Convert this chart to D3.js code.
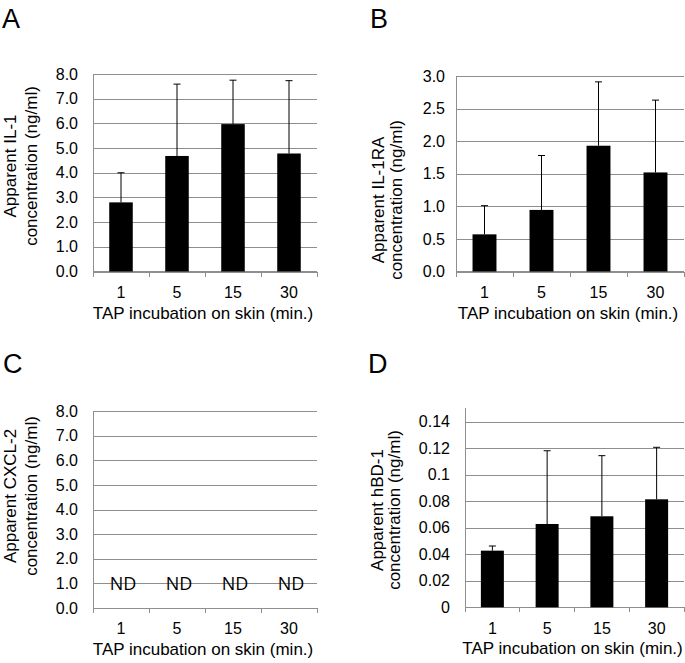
<!DOCTYPE html>
<html>
<head>
<meta charset="utf-8">
<script src="https://cdn.jsdelivr.net/npm/d3@7"></script>
<style>
  body { margin: 0; background: #fff; }
  svg text { font-family: "Liberation Sans", Arial, sans-serif; fill: #000; }
</style>
</head>
<body>
<div id="chart"></div>
<script>
// incubation times (x categories), same for all four panels
const times = ["1", "5", "15", "30"];

// A: IL-1 (ng/ml), mean and upper error (sd)
const il1Mean = [2.80, 4.68, 5.97, 4.78];
const il1Err = [1.20, 2.91, 1.78, 2.95];

// B: IL-1RA (ng/ml)
const il1raMean = [0.57, 0.945, 1.93, 1.52];
const il1raErr = [0.44, 0.835, 0.98, 1.11];

// C: CXCL-2, not detected
const cxcl2Labels = ["ND", "ND", "ND", "ND"];
const cxcl2LabelLevel = 1.0;

// D: hBD-1 (ng/ml)
const hbd1Mean = [0.0427, 0.0628, 0.0686, 0.0814];
const hbd1Err = [0.0035, 0.0552, 0.0457, 0.0392];

const ticks8 = [0, 1, 2, 3, 4, 5, 6, 7, 8];
const ticks3 = [0, 0.5, 1, 1.5, 2, 2.5, 3];
const ticksD = [0, 0.02, 0.04, 0.06, 0.08, 0.1, 0.12, 0.14];

const xTitle = "TAP incubation on skin (min.)";

const gridColor = "#8e8e8e";

const panels = [
  {letter: "A", lx: 2, ly: 28, left: 93, right: 317, top: 74, bottom: 271.5,
   max: 8, ticks: ticks8, fmt: d3.format(".1f"), labelGap: 15,
   title: ["Apparent IL-1", "concentration (ng/ml)"], tx: [16, 37], ty: 166,
   mean: il1Mean, err: il1Err},
  {letter: "B", lx: 370, ly: 28, left: 456, right: 684, top: 76, bottom: 271.5,
   max: 3, ticks: ticks3, fmt: d3.format(".1f"), labelGap: 11,
   title: ["Apparent IL-1RA", "concentration (ng/ml)"], tx: [384, 402], ty: 200,
   mean: il1raMean, err: il1raErr},
  {letter: "C", lx: 3, ly: 373, left: 93, right: 317, top: 411, bottom: 608,
   max: 8, ticks: ticks8, fmt: d3.format(".1f"), labelGap: 15,
   title: ["Apparent CXCL-2", "concentration (ng/ml)"], tx: [16, 37], ty: 496,
   nd: cxcl2Labels},
  {letter: "D", lx: 368, ly: 373, left: 465, right: 684, top: 408.3, bottom: 607.3,
   max: 0.15, ticks: ticksD, fmt: d3.format(".2~f"), labelGap: 15,
   title: ["Apparent hBD-1", "concentration (ng/ml)"], tx: [383, 400], ty: 510,
   mean: hbd1Mean, err: hbd1Err}
];

const svg = d3.select("#chart").append("svg")
  .attr("width", 685)
  .attr("height", 663);

panels.forEach(function(p) {
  const g = svg.append("g");

  // panel letter
  g.append("text")
    .attr("x", p.lx)
    .attr("y", p.ly)
    .style("font-size", "27px")
    .text(p.letter);

  const x = d3.scaleBand()
    .domain(times)
    .range([p.left, p.right])
    .paddingInner(0.58)
    .paddingOuter(0.29);

  const y = d3.scaleLinear()
    .domain([0, p.max])
    .range([p.bottom, p.top]);

  // gridlines + y labels
  const yAxis = g.append("g")
    .attr("transform", `translate(${p.left},0)`)
    .call(d3.axisLeft(y)
      .tickValues(p.ticks)
      .tickFormat(p.fmt)
      .tickSize(-(p.right - p.left))
      .tickPadding(p.labelGap));
  yAxis.select(".domain").remove();
  yAxis.selectAll(".tick line").attr("stroke", gridColor).attr("shape-rendering", "crispEdges");
  yAxis.selectAll(".tick text").style("font-size", "16px").style("font-family", "'Liberation Sans', Arial, sans-serif");

  // left axis line
  g.append("line")
    .attr("x1", p.left).attr("x2", p.left)
    .attr("y1", y(p.max)).attr("y2", y(0))
    .attr("stroke", gridColor)
    .attr("shape-rendering", "crispEdges");

  // x axis with ticks at category boundaries
  const xAxis = g.append("g")
    .attr("transform", `translate(0,${y(0)})`)
    .call(d3.axisBottom(x).tickSize(0).tickPadding(15));
  xAxis.select(".domain").remove();
  xAxis.selectAll(".tick text").style("font-size", "16px").style("font-family", "'Liberation Sans', Arial, sans-serif");

  g.append("line")
    .attr("x1", p.left).attr("x2", p.right)
    .attr("y1", y(0)).attr("y2", y(0))
    .attr("stroke", gridColor)
    .attr("shape-rendering", "crispEdges");

  const bounds = d3.range(times.length + 1).map(i => x.range()[0] + i * x.step());
  g.selectAll(".xtick")
    .data(bounds)
    .enter()
      .append("line")
        .attr("x1", d => d).attr("x2", d => d)
        .attr("y1", y(0)).attr("y2", y(0) + 5)
        .attr("stroke", gridColor)
        .attr("shape-rendering", "crispEdges");

  g.append("text")
    .attr("x", (p.left + p.right) / 2 - 2)
    .attr("y", y(0) + 47)
    .attr("text-anchor", "middle")
    .style("font-size", "17px")
    .text(xTitle);

  // y title, two rotated lines
  p.title.forEach(function(line, i) {
    g.append("text")
      .attr("transform", `translate(${p.tx[i]},${p.ty}) rotate(-90)`)
      .attr("text-anchor", "middle")
      .style("font-size", "17px")
      .text(line);
  });

  if (p.mean) {
    const rows = times.map((t, i) => ({t: t, v: p.mean[i], e: p.err[i]}));

    // error bars (upper only)
    g.selectAll(".err")
      .data(rows)
      .enter()
        .append("line")
          .attr("x1", d => x(d.t) + x.bandwidth() / 2)
          .attr("x2", d => x(d.t) + x.bandwidth() / 2)
          .attr("y1", d => y(d.v))
          .attr("y2", d => y(d.v + d.e))
          .attr("stroke", "#000")
          .attr("stroke-width", 1);
    g.selectAll(".cap")
      .data(rows)
      .enter()
        .append("line")
          .attr("x1", d => x(d.t) + x.bandwidth() / 2 - 3.5)
          .attr("x2", d => x(d.t) + x.bandwidth() / 2 + 3.5)
          .attr("y1", d => y(d.v + d.e))
          .attr("y2", d => y(d.v + d.e))
          .attr("stroke", "#000")
          .attr("stroke-width", 1);

    g.selectAll(".bar")
      .data(rows)
      .enter()
        .append("rect")
          .attr("x", d => x(d.t))
          .attr("y", d => y(d.v))
          .attr("width", x.bandwidth())
          .attr("height", d => y(0) - y(d.v))
          .attr("fill", "#000");
  }

  if (p.nd) {
    g.selectAll(".nd")
      .data(p.nd)
      .enter()
        .append("text")
          .attr("x", (d, i) => x(times[i]) + x.bandwidth() / 2 + 2)
          .attr("y", y(cxcl2LabelLevel))
          .attr("dy", "0.36em")
          .attr("text-anchor", "middle")
          .style("font-family", "'Open Sans', 'Noto Sans', sans-serif")
          .style("font-size", "18px")
          .text(d => d);
  }
});
</script>
</body>
</html>
